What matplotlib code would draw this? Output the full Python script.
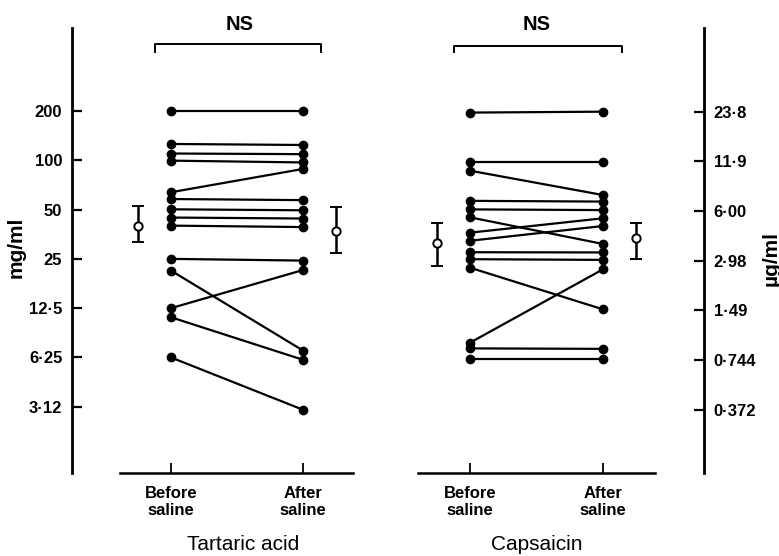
import matplotlib
matplotlib.use("Agg")
import matplotlib.pyplot as plt
from matplotlib.lines import Line2D
from matplotlib.ticker import FixedLocator, FixedFormatter, NullLocator

plt.rcParams['font.family'] = ['Liberation Sans', 'DejaVu Sans']

# ---- data -------------------------------------------------------------
conditions = ["Before\nsaline", "After\nsaline"]

# Tartaric acid threshold (mg/ml), one pair per subject
tartaric_before = [200, 125.8, 110, 99.5, 63.8, 58, 50.2, 44.7, 39.9, 25, 21.2, 12.5, 11.0, 6.25]
tartaric_after = [200, 124, 109, 97, 88.6, 57.1, 49.5, 44.1, 39.1, 24.4, 6.87, 21.4, 6.04, 2.99]
tartaric_mean = [39.9, 37.2]
tartaric_lower = [31.9, 27.0]
tartaric_upper = [52.8, 52.1]

# Capsaicin threshold (ug/ml)
capsaicin_before = [23.5, 11.75, 10.45, 6.86, 6.09, 5.45, 4.40, 3.93, 3.35, 3.04, 2.70, 0.948, 0.876, 0.754]
capsaicin_after = [23.8, 11.75, 7.44, 6.79, 6.03, 3.76, 5.38, 4.83, 3.34, 3.01, 1.51, 2.64, 0.870, 0.754]
capsaicin_mean = [3.79, 4.06]
capsaicin_lower = [2.78, 3.04]
capsaicin_upper = [5.02, 5.02]

tartaric_ticks = [200, 100, 50, 25, 12.5, 6.25, 3.125]
tartaric_ticklabels = ["200", "100", "50", "25", "12·5", "6·25", "3·12"]
capsaicin_ticks = [23.8, 11.9, 5.95, 2.975, 1.4875, 0.74375, 0.371875]
capsaicin_ticklabels = ["23·8", "11·9", "6·00", "2·98", "1·49", "0·744", "0·372"]

# ---- layout -----------------------------------------------------------
W, H = 779, 556
fig = plt.figure(figsize=(W / 100, H / 100), dpi=100)


def rect(x0, y0, x1, y1):
    """Pixel box (y measured from the top) -> figure fraction rect."""
    return [x0 / W, 1 - y1 / H, (x1 - x0) / W, (y1 - y0) / H]


def fx(x):
    return x / W


def fy(y):
    return 1 - y / H


ax1 = fig.add_axes(rect(72, 28, 390, 473))
ax2 = fig.add_axes(rect(390, 28, 704, 473))

MEAN_OFFSET = 0.25
TICK_FS = 12


def draw_panel(ax, before, after, mean, lower, upper, ticks, ticklabels,
               ylim, xlim, axis_span, side):
    ax.set_yscale('log', base=2)
    ax.set_ylim(*ylim)
    ax.set_xlim(*xlim)

    for b, a in zip(before, after):
        ax.plot([0, 1], [b, a], '-o', color='black', lw=1.6, ms=6,
                solid_capstyle='round', zorder=3)

    for i, (m, lo, hi) in enumerate(zip(mean, lower, upper)):
        x = i + (-MEAN_OFFSET if i == 0 else MEAN_OFFSET)
        ax.errorbar([x], [m], yerr=[[m - lo], [hi - m]], fmt='o',
                    mfc='white', mec='black', mew=1.4, ms=6,
                    ecolor='black', elinewidth=1.8, capsize=4, capthick=1.8,
                    zorder=4)

    # separate baseline under the two conditions
    ax.plot(axis_span, [0, 0], transform=ax.get_xaxis_transform(),
            color='black', lw=1.8, clip_on=False)
    ax.set_xticks([0, 1])
    ax.set_xticklabels(conditions, fontsize=TICK_FS, fontweight='bold',
                       linespacing=1.2)
    ax.tick_params(axis='x', direction='in', length=7, width=1.3, pad=9)

    for s in ('top', 'bottom'):
        ax.spines[s].set_visible(False)
    if side == 'left':
        ax.spines['right'].set_visible(False)
        ax.spines['left'].set_linewidth(2.0)
    else:
        ax.spines['left'].set_visible(False)
        ax.spines['right'].set_linewidth(2.0)
        ax.yaxis.tick_right()

    ax.yaxis.set_major_locator(FixedLocator(ticks))
    ax.yaxis.set_major_formatter(FixedFormatter(ticklabels))
    ax.yaxis.set_minor_locator(NullLocator())
    ax.tick_params(axis='y', direction='in', length=7, width=1.6, pad=7,
                   labelsize=TICK_FS)
    for tick in ax.yaxis.get_major_ticks():
        tick.label1.set_fontweight('bold')
        tick.label2.set_fontweight('bold')
    ax.patch.set_alpha(0)


draw_panel(ax1, tartaric_before, tartaric_after, tartaric_mean,
           tartaric_lower, tartaric_upper, tartaric_ticks, tartaric_ticklabels,
           ylim=(1.231, 642.5), xlim=(-0.748, 1.655),
           axis_span=[-0.385, 1.376], side='left')
draw_panel(ax2, capsaicin_before, capsaicin_after, capsaicin_mean,
           capsaicin_lower, capsaicin_upper, capsaicin_ticks,
           capsaicin_ticklabels,
           ylim=(0.154, 76.47), xlim=(-0.6015, 1.7594),
           axis_span=[-0.391, 1.391], side='right')

# significance brackets
for x0, x1, ytop, xt in [(155, 321, 43.5, 240), (454, 622, 46, 537)]:
    fig.add_artist(Line2D([fx(x0), fx(x0), fx(x1), fx(x1)],
                          [fy(52), fy(ytop), fy(ytop), fy(52)],
                          color='black', lw=1.4))
    fig.text(fx(xt), fy(24), "NS", fontsize=14.5, fontweight='bold',
             ha='center', va='center')

# axis titles and panel names
fig.text(fx(16), fy(247), "mg/ml", rotation=90, fontsize=15,
         fontweight='bold', ha='center', va='center')
fig.text(fx(771), fy(259), "µg/ml", rotation=90, fontsize=15,
         fontweight='bold', ha='center', va='center')
fig.text(fx(243), fy(545), "Tartaric acid", fontsize=15,
         ha='center', va='center')
fig.text(fx(537), fy(545), "Capsaicin", fontsize=15,
         ha='center', va='center')

fig.savefig("out.png", dpi=100)
